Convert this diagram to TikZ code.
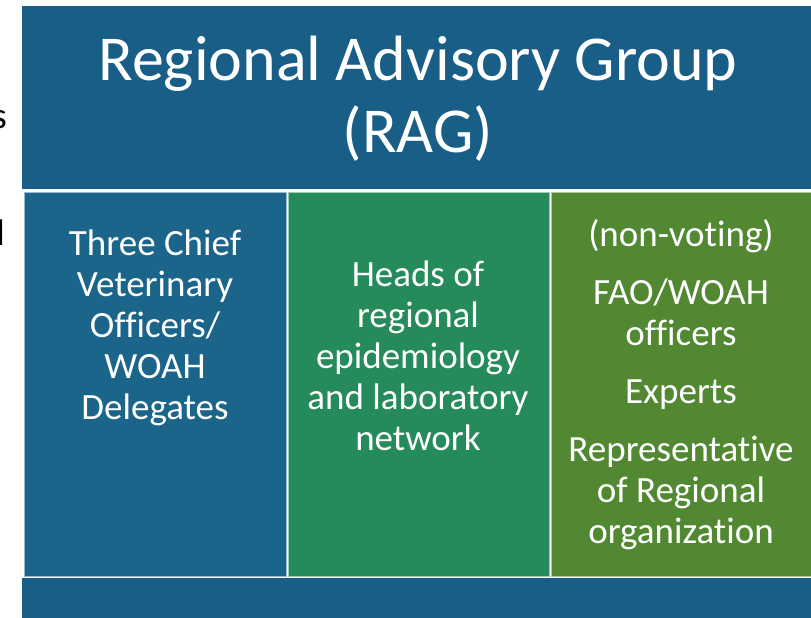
\documentclass[tikz,border=0pt]{standalone}
\usepackage{fontspec}
\setmainfont{Carlito}[Ligatures={NoCommon}]
\definecolor{ragblue}{RGB}{24,94,134}
\definecolor{colblue}{RGB}{27,100,138}
\definecolor{colgreen}{RGB}{37,139,90}
\definecolor{cololive}{RGB}{82,136,50}
\tikzset{
    column/.style={draw=white!55!#1,line width=0.8pt,fill=#1},
    title/.style={white,align=center,inner sep=0pt,font=\fontsize{64}{72}\selectfont},
    coltext/.style={white,align=center,inner sep=0pt,font=\fontsize{37}{41}\selectfont},
    edgetext/.style={black,inner sep=0pt,font=\fontsize{37}{41}\selectfont}
}

\begin{document}
\begin{tikzpicture}[x=1pt,y=-1pt]
    \useasboundingbox (0,0) rectangle (811,618);
    \fill[white] (0,0) rectangle (811,618);
    \node[edgetext,anchor=base east] (cuts) at (7,128) {s};
    \node[edgetext,anchor=base east] (cutl) at (5,245) {l};
    \fill[ragblue] (22,6) rectangle (811,189);
    \node[title] (rag) at (418,99) {Regional Advisory Group\\(RAG)};
    \draw[column=colblue] (24,192) rectangle (286,576);
    \draw[column=colgreen] (288,192) rectangle (549,576);
    \draw[column=cololive] (551,192) rectangle (812,576);
    \node[coltext] (cvo) at (155,328) {Three Chief\\Veterinary\\Officers/\\WOAH\\Delegates};
    \node[coltext] (heads) at (418,356) {Heads of\\regional\\epidemiology\\and laboratory\\network};
    \node[coltext] (observers) at (681,385) {(non-voting)\\[17pt]FAO/WOAH\\officers\\[17pt]Experts\\[17pt]Representative\\of Regional\\organization};
    \fill[ragblue] (22,578) rectangle (811,618);
\end{tikzpicture}
\end{document}
